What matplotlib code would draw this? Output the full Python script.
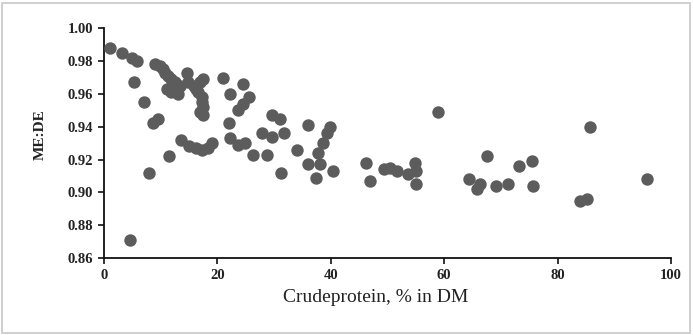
import matplotlib
matplotlib.use("Agg")
import matplotlib.pyplot as plt
from matplotlib.patches import Rectangle

# Data (Crude protein % in DM vs ME:DE)
crude_protein = [
    1.1, 3.1, 4.9, 5.8, 5.3, 7.1, 8.7, 9.6, 4.5, 8.0,
    11.5, 13.5, 15.0, 16.3, 17.3, 18.3, 19.0,
    9.0, 9.9, 10.4, 10.8, 11.3, 11.9, 12.5, 11.1, 11.9, 13.1, 13.4,
    14.7, 14.9, 15.8, 16.3, 16.9, 17.5, 16.6, 17.2, 17.2, 17.5, 16.9, 17.5,
    20.9, 24.5, 22.3, 25.5, 24.6, 23.7, 22.1, 22.2, 23.7, 24.9,
    26.3, 28.7, 27.8, 29.6, 29.6, 31.0, 31.7, 31.3, 34.1,
    36.0, 39.9, 39.3, 38.7, 37.8, 36.0, 38.1, 40.4, 37.4,
    46.2, 46.9, 49.3, 50.4, 51.6, 53.7, 54.8, 55.1, 55.0,
    58.9, 67.5, 64.3, 66.3, 65.7, 69.2, 71.3, 73.2, 75.4, 75.7,
    85.7, 95.8, 83.9, 85.1,
]
me_de = [
    0.988, 0.985, 0.982, 0.980, 0.967, 0.955, 0.942, 0.945, 0.871, 0.912,
    0.922, 0.932, 0.928, 0.927, 0.926, 0.927, 0.930,
    0.978, 0.977, 0.975, 0.973, 0.971, 0.969, 0.967, 0.963, 0.961, 0.960, 0.965,
    0.973, 0.967, 0.965, 0.963, 0.967, 0.969, 0.961, 0.958, 0.955, 0.952, 0.949, 0.947,
    0.970, 0.966, 0.960, 0.958, 0.954, 0.950, 0.942, 0.933, 0.929, 0.930,
    0.923, 0.923, 0.936, 0.934, 0.947, 0.945, 0.936, 0.912, 0.926,
    0.941, 0.940, 0.936, 0.930, 0.924, 0.917, 0.917, 0.913, 0.909,
    0.918, 0.907, 0.914, 0.915, 0.913, 0.911, 0.918, 0.913, 0.905,
    0.949, 0.922, 0.908, 0.905, 0.902, 0.904, 0.905, 0.916, 0.919, 0.904,
    0.940, 0.908, 0.895, 0.896,
]
x_ticks = [0, 20, 40, 60, 80, 100]
y_ticks = [0.86, 0.88, 0.90, 0.92, 0.94, 0.96, 0.98, 1.00]
x_label = "Crudeprotein, % in DM"
y_label = "ME:DE"

W, H = 693, 335
fig = plt.figure(figsize=(W / 100, H / 100), dpi=100)
fig.patches.append(Rectangle((2 / W, 2 / H), (W - 5) / W, (H - 5) / H,
                             transform=fig.transFigure, fill=False,
                             edgecolor="#c8c8c8", linewidth=1.2))

ax = fig.add_axes([104 / W, 1 - 258 / H, (671 - 104) / W, (258 - 28.3) / H])
ax.scatter(crude_protein, me_de, s=80, color="#5c5c5c", linewidths=0,
           zorder=3, clip_on=False)

ax.set_xlim(0, 100)
ax.set_ylim(0.86, 1.00)
ax.set_xticks(x_ticks)
ax.set_yticks(y_ticks)
ax.set_yticklabels([f"{v:.2f}" for v in y_ticks])
for s in ["top", "right"]:
    ax.spines[s].set_visible(False)
for s in ["left", "bottom"]:
    ax.spines[s].set_linewidth(1.3)
    ax.spines[s].set_color("#111111")
ax.tick_params(direction="out", length=4, width=1.2, color="#111111",
               labelsize=10.5, pad=4)
for lab in ax.get_xticklabels() + ax.get_yticklabels():
    lab.set_fontfamily("Liberation Serif")
    lab.set_fontweight("bold")
    lab.set_color("#222222")

ax.set_xlabel(x_label, fontfamily="Liberation Serif", fontsize=14, color="#222222")
ax.xaxis.label.set_va("center")
ax.xaxis.set_label_coords(0.48, (258 - 297) / 229.7)
ax.set_ylabel(y_label, fontfamily="Liberation Serif", fontsize=11,
              fontweight="bold", color="#222222")
ax.yaxis.label.set_va("center")
ax.yaxis.set_label_coords((40 - 104) / 567, (258 - 135) / 229.7)

fig.savefig("out.png", dpi=100)
